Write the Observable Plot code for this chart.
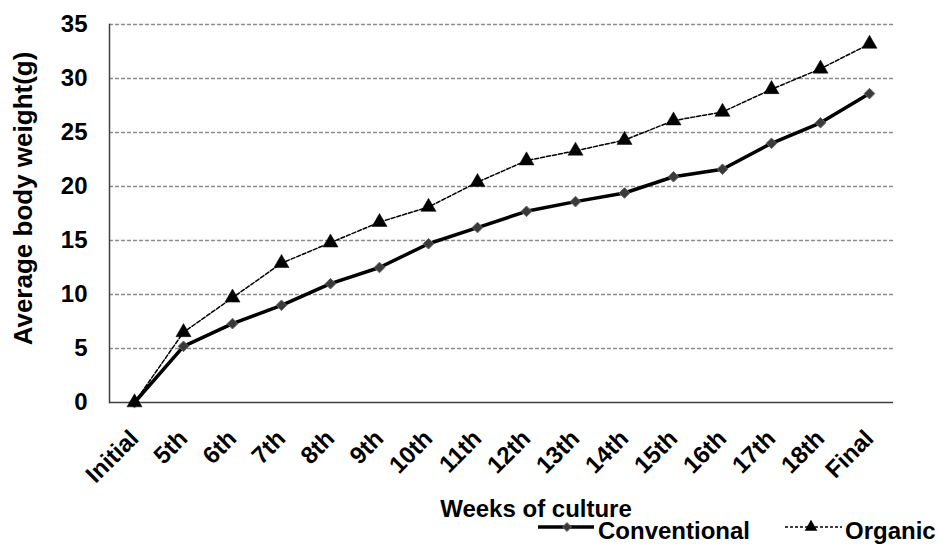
<!DOCTYPE html>
<html>
<head>
<meta charset="utf-8">
<script src="https://cdn.jsdelivr.net/npm/d3@7"></script>
<script src="https://cdn.jsdelivr.net/npm/@observablehq/plot@0.6"></script>
<style>
  html, body { margin: 0; padding: 0; background: #fff; }
  #wrap { width: 939px; height: 545px; font-family: "Liberation Sans", Arial, sans-serif; font-weight: bold; }
  #wrap svg { display: block; }
</style>
</head>
<body>
<div id="wrap"></div>
<script>
const weeks = ["Initial","5th","6th","7th","8th","9th","10th","11th","12th","13th","14th","15th","16th","17th","18th","Final"];
const conventional = [0, 5.2, 7.3, 9.0, 11.0, 12.5, 14.7, 16.2, 17.7, 18.6, 19.4, 20.9, 21.6, 24.0, 25.9, 28.6];
const organic = [0, 6.5, 9.7, 12.9, 14.8, 16.7, 18.1, 20.4, 22.4, 23.3, 24.3, 26.1, 26.9, 29.0, 30.9, 33.2];
const yTicks = [0, 5, 10, 15, 20, 25, 30, 35];
const seriesNames = ["Conventional", "Organic"];
const xTitle = "Weeks of culture";
const yTitle = "Average body weight(g)";

const convData = weeks.map((w, i) => ({week: w, value: conventional[i]}));
const orgData = weeks.map((w, i) => ({week: w, value: organic[i]}));

const FONT = "'Liberation Sans', Arial, sans-serif";

const chart = Plot.plot({
  width: 939,
  height: 490,
  marginTop: 24,
  marginBottom: 88,
  marginLeft: 109,
  marginRight: 46,
  style: {fontFamily: FONT, fontWeight: "bold", fontSize: "24px", color: "#000", background: "#fff"},
  x: {type: "point", domain: weeks, padding: 0.5, label: null},
  y: {domain: [0, 35], label: null},
  marks: [
    Plot.gridY(yTicks.filter(d => d > 0), {stroke: "#8c8c8c", strokeOpacity: 1, strokeWidth: 1.5, strokeDasharray: "4,2"}),
    Plot.axisY({ticks: yTicks, tickSize: 0, tickPadding: 22, fontSize: 24, label: null}),
    Plot.axisX({tickSize: 0, tickRotate: -45, tickPadding: 32, fontSize: 24, label: null}),
    Plot.ruleY([0], {stroke: "#404040", strokeWidth: 1.5}),
    Plot.frame({anchor: "left", stroke: "#404040", strokeWidth: 1.5}),
    Plot.text([yTitle], {frameAnchor: "left", textAnchor: "middle", dx: -86, dy: -15, rotate: -90, fontSize: 26, fill: "#000"}),
    Plot.line(convData, {x: "week", y: "value", stroke: "#000", strokeWidth: 3.5}),
    Plot.line(orgData, {x: "week", y: "value", stroke: "#000", strokeWidth: 1.5, strokeDasharray: "4,2"}),
    Plot.dot(convData, {x: "week", y: "value", symbol: "diamond2", r: 4.8, fill: "#3a3a3a", stroke: "#666", strokeWidth: 1}),
    Plot.dot(orgData, {x: "week", y: "value", symbol: "triangle", r: 5.6, fill: "#000", stroke: "#000", strokeWidth: 0.5})
  ]
});

const wrap = document.getElementById("wrap");
wrap.appendChild(chart);

// Axis title and legend below the chart
const leg = d3.create("svg").attr("width", 939).attr("height", 55);
leg.append("text").attr("x", 536).attr("y", 27).attr("text-anchor", "middle")
  .attr("font-size", 24).attr("font-weight", "bold").attr("font-family", FONT).text(xTitle);
const ly = 37;
const g1 = leg.append("g");
g1.append("line").attr("x1", 538).attr("x2", 594).attr("y1", ly).attr("y2", ly).attr("stroke", "#000").attr("stroke-width", 3.5);
g1.append("path").attr("d", d3.symbol(d3.symbolDiamond2, 50)()).attr("transform", `translate(567,${ly})`).attr("fill", "#3a3a3a").attr("stroke", "#666");
g1.append("text").attr("x", 598).attr("y", 49).attr("font-size", 24).attr("font-weight", "bold").attr("font-family", FONT).text(seriesNames[0]);
const g2 = leg.append("g");
g2.append("line").attr("x1", 785).attr("x2", 842).attr("y1", ly).attr("y2", ly).attr("stroke", "#000").attr("stroke-width", 1.5).attr("stroke-dasharray", "3,2");
g2.append("path").attr("d", d3.symbol(d3.symbolTriangle, 70)()).attr("transform", `translate(811,${ly})`).attr("fill", "#000");
g2.append("text").attr("x", 845).attr("y", 49).attr("font-size", 24).attr("font-weight", "bold").attr("font-family", FONT).text(seriesNames[1]);
wrap.appendChild(leg.node());
</script>
</body>
</html>
